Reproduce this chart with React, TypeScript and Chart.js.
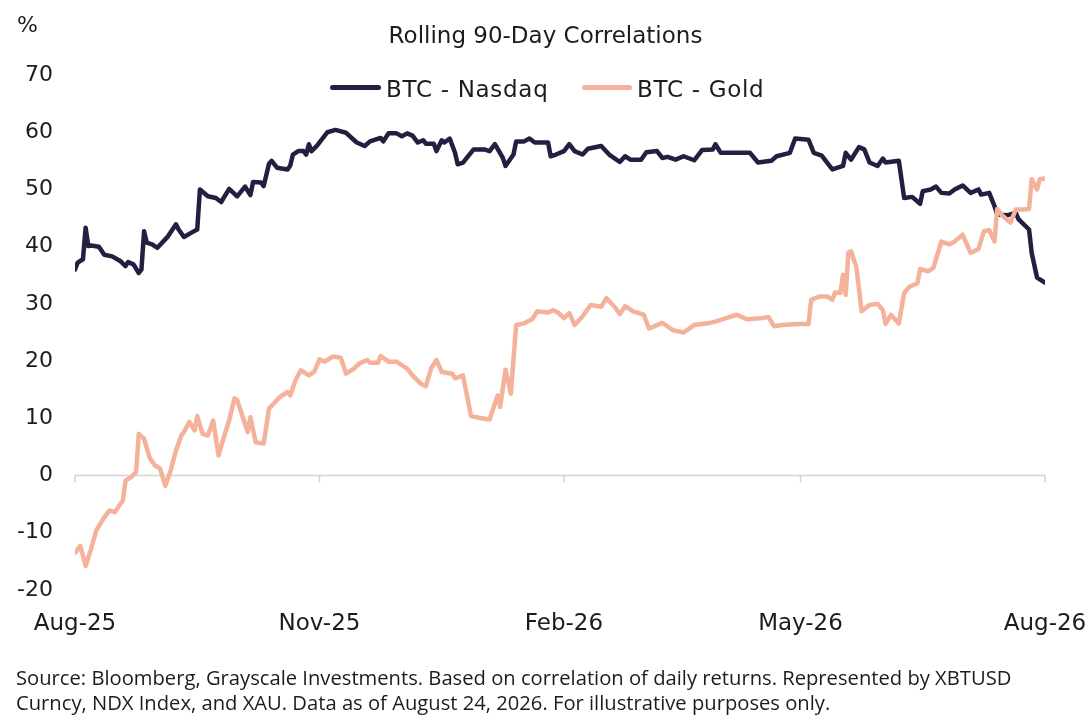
import React, { useEffect, useRef } from "react";
import { Chart, registerables } from "chart.js";

Chart.register(...registerables);

// Day offsets from Aug 24, 2025
const nasdaqDays = [
  0, 1, 3, 4, 5, 6, 9, 11, 14, 17, 19, 20, 22, 24, 25, 26, 27, 29, 31, 35,
  38, 39, 41, 44, 46, 47, 50, 53, 55, 58, 61, 64, 66, 67, 70, 71, 73, 74, 76, 80,
  81, 82, 84, 86, 87, 88, 89, 91, 95, 98, 102, 106, 109, 111, 115, 116, 118, 121, 123, 125,
  127, 129, 131, 132, 135, 136, 138, 139, 141, 143, 144, 146, 150, 154, 156, 158, 161, 162, 165, 166,
  169, 171, 173, 178, 179, 181, 184, 186, 188, 191, 193, 198, 201, 205, 207, 209, 213, 215, 219, 221,
  223, 226, 229, 233, 236, 240, 241, 243, 249, 254, 257, 262, 264, 269, 271, 276, 278, 281, 283, 285,
  289, 290, 292, 295, 297, 299, 302, 304, 305, 310, 312, 315, 318, 319, 322, 324, 326, 329, 331, 334,
  337, 340, 341, 344, 346, 347, 351, 354, 355, 359, 360, 362, 365,
];
const nasdaqValues = [
  36.0, 37.2, 37.8, 43.3, 40.1, 40.2, 40.0, 38.6, 38.3, 37.5, 36.6, 37.3, 36.9, 35.4, 36.0, 42.7, 40.7, 40.4, 39.8, 41.8,
  43.9, 43.0, 41.7, 42.5, 43.0, 50.0, 48.8, 48.5, 47.8, 50.1, 48.8, 50.5, 49.0, 51.3, 51.2, 50.6, 54.5, 55.0, 53.8, 53.5,
  54.2, 56.1, 56.7, 56.7, 56.1, 57.9, 56.7, 57.6, 60.0, 60.4, 59.9, 58.2, 57.6, 58.4, 59.0, 58.4, 59.8, 59.8, 59.3, 59.8,
  59.4, 58.2, 58.6, 58.0, 58.0, 56.7, 58.6, 58.2, 58.9, 56.4, 54.4, 54.7, 57.0, 57.0, 56.7, 57.9, 55.5, 54.1, 56.1, 58.4,
  58.4, 58.9, 58.2, 58.2, 55.8, 56.1, 56.7, 57.9, 56.7, 56.1, 57.1, 57.6, 56.1, 54.8, 55.8, 55.2, 55.2, 56.5, 56.7, 55.5,
  55.7, 55.2, 55.8, 55.1, 56.9, 57.0, 57.9, 56.4, 56.4, 56.4, 54.7, 55.0, 55.8, 56.4, 58.9, 58.7, 56.4, 55.9, 54.7, 53.5,
  54.1, 56.4, 55.2, 57.4, 57.0, 54.7, 54.1, 55.4, 54.7, 55.0, 48.5, 48.7, 47.5, 49.7, 50.0, 50.5, 49.4, 49.3, 50.0, 50.7,
  49.4, 50.0, 49.1, 49.4, 47.1, 45.6, 45.5, 45.9, 44.8, 43.0, 38.9, 34.6, 33.7,
];

const goldDays = [
  0, 2, 4, 6, 8, 11, 13, 15, 17, 18, 19, 21, 23, 24, 26, 28, 30, 32, 34, 36,
  38, 40, 41, 43, 45, 46, 48, 50, 52, 54, 56, 58, 60, 61, 65, 66, 68, 71, 73, 77,
  80, 81, 83, 85, 88, 90, 92, 94, 97, 100, 102, 105, 107, 110, 111, 114, 115, 118, 121, 125,
  127, 130, 132, 134, 136, 138, 142, 143, 146, 149, 152, 156, 159, 160, 162, 164, 166, 169, 172, 174,
  178, 180, 182, 184, 186, 188, 191, 194, 198, 200, 203, 205, 207, 210, 214, 216, 219, 221, 225, 229,
  233, 238, 241, 245, 249, 253, 258, 261, 263, 266, 272, 276, 277, 280, 283, 285, 286, 288, 289, 290,
  291, 292, 294, 296, 299, 302, 304, 305, 307, 310, 312, 314, 317, 318, 321, 323, 326, 329, 331, 334,
  337, 340, 342, 344, 346, 347, 349, 352, 354, 357, 359, 360, 362, 363, 365,
];
const goldValues = [
  -13.5, -12.3, -15.8, -12.9, -9.6, -7.3, -6.1, -6.4, -5.0, -4.4, -0.9, -0.3, 0.6, 7.3, 6.4, 3.2, 1.8, 1.2, -1.8, 0.9,
  4.4, 7.0, 7.6, 9.4, 7.9, 10.4, 7.3, 7.0, 9.6, 3.5, 6.7, 9.6, 13.5, 13.2, 7.6, 10.2, 5.8, 5.6, 11.7, 13.7,
  14.6, 14.0, 16.7, 18.4, 17.5, 18.1, 20.3, 19.9, 20.8, 20.6, 17.8, 18.7, 19.6, 20.2, 19.7, 19.7, 20.9, 19.9, 19.9, 18.7,
  17.5, 16.1, 15.6, 18.7, 20.2, 18.1, 17.8, 17.0, 17.5, 10.4, 10.1, 9.8, 14.0, 12.0, 18.5, 14.3, 26.3, 26.6, 27.3, 28.7,
  28.5, 28.9, 28.4, 27.5, 28.4, 26.3, 27.8, 29.8, 29.5, 31.0, 29.5, 28.2, 29.6, 28.7, 28.1, 25.7, 26.3, 26.7, 25.4, 25.0,
  26.3, 26.6, 26.9, 27.5, 28.1, 27.3, 27.5, 27.7, 26.1, 26.3, 26.5, 26.5, 30.7, 31.3, 31.3, 30.7, 32.0, 31.9, 35.1, 31.6,
  38.9, 39.2, 36.5, 28.7, 29.8, 30.0, 28.9, 26.5, 28.1, 26.6, 31.9, 33.0, 33.6, 36.1, 35.7, 36.3, 40.9, 40.4, 40.9, 42.1,
  38.9, 39.6, 42.7, 42.9, 40.9, 46.6, 45.4, 44.2, 46.5, 46.5, 46.6, 51.8, 50.0, 51.8, 51.9,
];

const xTickDays = [0, 92, 184, 273, 365];
const xTickLabels = ["Aug-25", "Nov-25", "Feb-26", "May-26", "Aug-26"];
const yMin = -20;
const yMax = 70;
const yStep = 10;

const seriesNames = ["BTC - Nasdaq", "BTC - Gold"];
const NAVY = "#231f40";
const GOLD = "#f4b29a";
const TEXT = "#1c1c1c";
const FONT = "'DejaVu Sans', sans-serif";

const zeroLinePlugin = {
  id: "zeroLine",
  beforeDatasetsDraw(chart: any) {
    const { ctx, chartArea, scales } = chart;
    const y0 = scales.y.getPixelForValue(0);
    ctx.save();
    ctx.strokeStyle = "#d4d4d4";
    ctx.lineWidth = 1.5;
    ctx.beginPath();
    ctx.moveTo(chartArea.left, y0);
    ctx.lineTo(chartArea.right, y0);
    for (const d of xTickDays) {
      const x = scales.x.getPixelForValue(d);
      ctx.moveTo(x, y0);
      ctx.lineTo(x, y0 + 7);
    }
    ctx.stroke();
    ctx.restore();
  },
};

export default function App() {
  const canvasRef = useRef<HTMLCanvasElement | null>(null);

  useEffect(() => {
    if (!canvasRef.current) return;
    const chart = new Chart(canvasRef.current, {
      type: "line",
      data: {
        datasets: [
          {
            label: seriesNames[0],
            data: nasdaqDays.map((d, i) => ({ x: d, y: nasdaqValues[i] })),
            borderColor: NAVY,
            backgroundColor: NAVY,
            borderWidth: 4.5,
            pointRadius: 0,
            tension: 0,
            borderJoinStyle: "round",
            borderCapStyle: "round",
            order: 2,
          },
          {
            label: seriesNames[1],
            data: goldDays.map((d, i) => ({ x: d, y: goldValues[i] })),
            borderColor: GOLD,
            backgroundColor: GOLD,
            borderWidth: 4.5,
            pointRadius: 0,
            tension: 0,
            borderJoinStyle: "round",
            borderCapStyle: "round",
            order: 1,
          },
        ],
      },
      options: {
        animation: false,
        responsive: false,
        maintainAspectRatio: false,
        layout: { padding: { left: 0, right: 46, top: 75, bottom: 81 } },
        plugins: {
          legend: { display: false },
          title: { display: false },
          tooltip: { enabled: false },
        },
        scales: {
          x: {
            type: "linear",
            min: 0,
            max: 365,
            grid: { display: false, drawTicks: false },
            border: { display: false },
            afterBuildTicks: (scale: any) => {
              scale.ticks = xTickDays.map((v) => ({ value: v }));
            },
            afterFit: (scale: any) => {
              scale.height = 50;
              scale.paddingLeft = 0;
              scale.paddingRight = 0;
            },
            ticks: {
              autoSkip: false,
              maxRotation: 0,
              padding: 20,
              color: TEXT,
              font: { family: FONT, size: 23 },
              callback: (_v: any, i: number) => xTickLabels[i],
            },
          },
          y: {
            min: yMin,
            max: yMax,
            grid: { display: false, drawTicks: false },
            border: { display: false },
            afterFit: (scale: any) => {
              scale.width = 75;
              scale.paddingTop = 0;
              scale.paddingBottom = 0;
            },
            ticks: {
              stepSize: yStep,
              padding: 22,
              color: TEXT,
              font: { family: FONT, size: 22 },
            },
          },
        },
      },
      plugins: [zeroLinePlugin],
    });
    return () => chart.destroy();
  }, []);

  const abs: React.CSSProperties = { position: "absolute", margin: 0, whiteSpace: "nowrap", color: TEXT };

  return (
    <div style={{ position: "absolute", left: 0, top: 0, width: 1091, height: 721, background: "#fff", overflow: "hidden" }}>
      <canvas ref={canvasRef} width={1091} height={721} style={{ position: "absolute", left: 0, top: 0, width: 1091, height: 721 }} />
      <div style={{ ...abs, left: 17, top: 14, fontFamily: FONT, fontSize: 22, lineHeight: "22px" }}>%</div>
      <div style={{ ...abs, left: 0, width: 1091, top: 24, textAlign: "center", fontFamily: FONT, fontSize: 23, lineHeight: "23px" }}>
        Rolling 90-Day Correlations
      </div>
      <div style={{ ...abs, left: 330, top: 84.5, width: 51, height: 5, borderRadius: 3, background: NAVY }} />
      <div style={{ ...abs, left: 386, top: 78, fontFamily: FONT, fontSize: 23, lineHeight: "22px", letterSpacing: 0.7 }}>{seriesNames[0]}</div>
      <div style={{ ...abs, left: 582, top: 84.5, width: 50, height: 5, borderRadius: 3, background: GOLD }} />
      <div style={{ ...abs, left: 637, top: 78, fontFamily: FONT, fontSize: 23, lineHeight: "22px", letterSpacing: 0.7 }}>{seriesNames[1]}</div>
      <div style={{ ...abs, left: 16, top: 665, fontFamily: "'Open Sans', sans-serif", fontSize: 20.2, lineHeight: "25px" }}>
        Source: Bloomberg, Grayscale Investments. Based on correlation of daily returns. Represented by XBTUSD
        <br />
        Curncy, NDX Index, and XAU. Data as of August 24, 2026. For illustrative purposes only.
      </div>
    </div>
  );
}
